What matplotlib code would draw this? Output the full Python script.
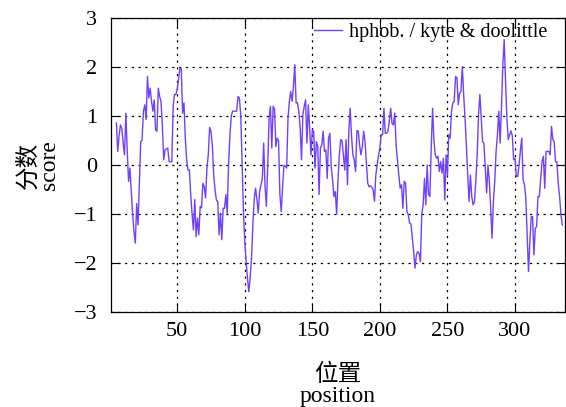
import numpy as np
import matplotlib
matplotlib.use("Agg")
import matplotlib.pyplot as plt

plt.rcParams['font.family'] = ['Liberation Serif', 'Noto Sans CJK SC']

# kyte & doolittle hydrophobicity (positions 5..335)
start_pos = 5
score = [
    0.86, 0.28, 0.60, 0.82, 0.75, 0.45, 0.21, 1.06, 0.30, -0.33,      # 5-14
    -0.06, -0.55, -1.00, -1.35, -1.59, -0.78, -1.22, -0.40, 0.48, 0.51,  # 15-24
    1.10, 1.23, 0.93, 1.81, 1.37, 1.57, 1.30, 1.10, 1.33, 0.72,      # 25-34
    0.69, 1.57, 1.40, 1.30, 0.82, 0.11, 0.31, 0.33, 0.35, 0.07,      # 35-44
    0.07, 0.07, 1.20, 1.44, 1.44, 1.55, 1.75, 1.98, 1.97, 1.06,      # 45-54
    1.27, 0.55, 0.10, -0.10, -0.10, -0.60, -1.00, -1.32, -0.70, -1.46,  # 55-64
    -1.08, -1.42, -0.84, -0.87, -0.37, -0.44, -0.67, -0.06, 0.21, 0.77,  # 65-74
    0.69, 0.40, -0.20, -0.50, -0.71, -0.75, -1.42, -0.98, -1.52, -0.88,  # 75-84
    -0.88, -0.60, -0.98, 0.00, 0.60, 1.00, 1.10, 1.10, 1.10, 1.10,   # 85-94
    1.40, 1.37, 1.03, 0.10, -0.95, -1.56, -1.97, -2.30, -2.58, -2.30,  # 95-104
    -1.90, -1.20, -0.70, -0.47, -0.70, -0.98, -0.54, -0.40, -0.27, 0.45,  # 105-114
    -0.44, -0.84, 0.00, 0.96, 1.20, 0.35, 1.20, 1.15, 0.38, 0.55,    # 115-124
    0.50, -0.60, -0.95, -0.44, 0.00, -0.02, -0.06, 0.96, 1.30, 1.50,  # 125-134
    1.30, 1.60, 2.05, 1.27, 1.27, 1.10, 0.76, 0.11, 1.03, 1.20,      # 135-144
    1.33, 0.45, 1.23, 0.76, 0.21, 0.72, 0.69, -0.06, 0.48, 0.38,     # 145-154
    -0.60, 0.35, 0.41, 0.69, 0.28, 0.31, -0.27, 0.55, 0.65, -0.03,   # 155-164
    -0.30, -0.64, -0.54, -1.00, -0.30, 0.21, 0.52, 0.50, 0.20, -0.10,  # 165-174
    0.52, -0.40, 0.70, 1.16, 0.60, 0.21, 0.11, -0.13, 0.70, 0.70,    # 175-184
    0.40, 0.21, 0.38, 0.69, 0.48, 0.07, -0.37, -0.44, -0.42, -0.45,  # 185-194
    -0.50, -0.74, -0.20, 0.00, 0.20, 0.35, 0.62, 0.62, 1.16, 0.65,   # 195-204
    0.65, 0.69, 0.90, 1.16, 0.85, 0.82, 1.06, 0.40, 0.10, -0.20,     # 205-214
    -0.47, -0.40, -0.88, -0.33, -0.37, -0.95, -1.01, -1.18, -1.20, -1.49,  # 215-224
    -1.76, -2.10, -1.83, -1.76, -1.80, -1.97, -1.00, -0.81, -0.27, -0.81,  # 225-234
    0.00, -0.60, -0.64, 0.35, 1.16, 0.50, 0.21, 0.14, 0.18, -0.13,   # 235-244
    0.07, -0.16, 0.14, -0.71, 0.21, -0.20, 0.62, 0.55, 1.10, 1.27,   # 245-254
    1.30, 1.81, 1.78, 1.23, 1.47, 1.50, 2.01, 1.44, 0.96, 0.41,      # 255-264
    -0.20, -0.74, -0.20, -0.64, -0.81, -0.74, -0.33, 0.21, 1.03, 1.44,  # 265-274
    0.96, 0.48, 0.45, -0.06, -0.57, 0.00, -0.33, -0.88, -1.49, -0.74,  # 275-284
    -0.33, 0.28, 0.62, 1.10, 0.45, 1.20, 2.05, 2.56, 1.71, 0.96,     # 285-294
    0.52, 0.62, 0.70, 0.60, 0.11, 0.14, -0.23, -0.23, 0.00, 0.30,    # 295-304
    0.55, -0.30, -0.40, -0.67, -1.40, -2.17, -1.56, -1.05, -1.05, -1.83,  # 305-314
    -1.29, -1.25, -0.64, -0.64, -0.27, 0.07, 0.18, -0.47, 0.28, 0.28,  # 315-324
    0.28, 0.21, 0.79, 0.52, 0.48, 0.07, 0.07, -0.37, -0.64, -1.01,   # 325-334
    -1.22,                                                           # 335
]
position = np.arange(start_pos, start_pos + len(score))

x_ticks = [50, 100, 150, 200, 250, 300]
y_ticks = [-3, -2, -1, 0, 1, 2, 3]

fig = plt.figure(figsize=(5.66, 4.07), dpi=100)
ax = fig.add_axes([111 / 566, (407 - 312.3) / 407, (565 - 111) / 566, (312.3 - 18) / 407])

ax.plot(position, score, color='#7040ff', lw=1.0, label='hphob. / kyte & doolittle')

ax.set_xlim(1, 337)
ax.set_ylim(-3, 3)
ax.set_xticks(x_ticks)
ax.set_yticks(y_ticks)
ax.grid(True, color='black', linestyle=(0, (1.8, 3.6)), lw=0.9)

ax.tick_params(direction='in', length=6.5, width=0.8, top=True, right=True, labelsize=16)
ax.tick_params(axis='x', pad=7)
ax.tick_params(axis='y', pad=10)
for s in ax.spines.values():
    s.set_linewidth(0.9)

ax.set_xlabel('位置\nposition', fontsize=17, linespacing=1.0, labelpad=16)
ax.set_ylabel('分数\nscore', fontsize=17, linespacing=0.95, labelpad=10)

ax.legend(loc='upper right', frameon=False, fontsize=14.5, handlelength=1.4,
          handletextpad=0.35, borderaxespad=0.0, bbox_to_anchor=(0.98, 1.01))

fig.savefig('out.png', dpi=100)
